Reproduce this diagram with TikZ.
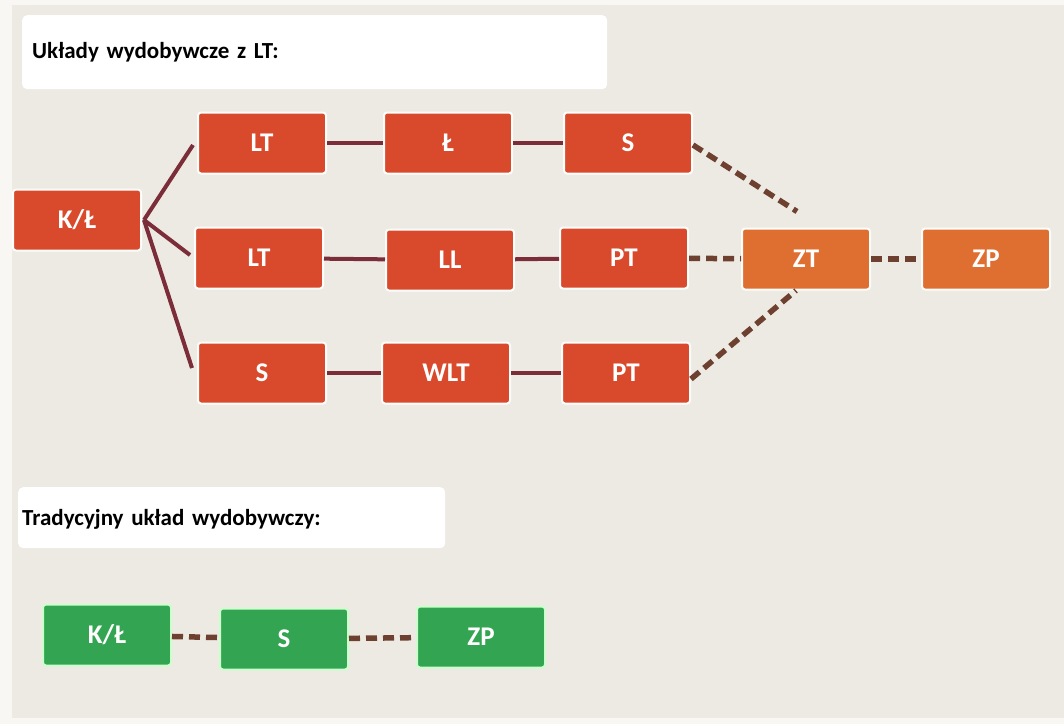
\documentclass[tikz,border=0pt]{standalone}
\usepackage{fontspec}
\setmainfont{Carlito}
\usepackage{xcolor}
\usetikzlibrary{positioning}

\definecolor{bgbeige}{HTML}{EDEAE3}
\definecolor{boxred}{HTML}{D84A2B}
\definecolor{boxorange}{HTML}{DF6F31}
\definecolor{boxgreen}{HTML}{33A552}
\definecolor{linered}{HTML}{7B2D3A}
\definecolor{linebrown}{HTML}{6E4030}

\begin{document}
\begin{tikzpicture}[x=1pt, y=-1pt,
        box/.style={rectangle, rounded corners=3pt, draw=white!90!bgbeige, line width=2pt, minimum width=128pt, minimum height=61pt, text=white, font=\fontsize{27}{30}\selectfont\bfseries},
        redbox/.style={box, fill=boxred},
        orangebox/.style={box, fill=boxorange},
        greenbox/.style={box, fill=boxgreen, draw=green!20!white},
        titlebox/.style={rectangle, rounded corners=5pt, fill=white, anchor=north west, align=left, text width=#1, font=\fontsize{23}{27}\selectfont\bfseries},
        link/.style={draw=linered, line width=4pt},
        dlink/.style={draw=linebrown, line width=5.5pt, dash pattern=on 11pt off 6pt}]
            \useasboundingbox (0, 0) rectangle (1064, 724);
            \fill[white!60!bgbeige] (0, 0) rectangle (1064, 724);
            \fill[bgbeige] (12, 5) rectangle (1064, 718);

            \node[titlebox=565pt, inner xsep=10pt, minimum height=74pt] (t1) at (22, 15) {Układy wydobywcze z LT:};
            \node[titlebox=419pt, inner xsep=4pt, inner ysep=0pt, minimum height=61pt, text depth=-9pt] (t2) at (18, 487) {Tradycyjny układ wydobywczy:};

            \node[redbox] (kl) at (77, 220) {K/Ł};
            \node[redbox] (lt1) at (262, 143) {LT};
            \node[redbox] (l1) at (448, 143) {Ł};
            \node[redbox] (s1) at (628, 143) {S};
            \node[redbox] (lt2) at (259, 258) {LT};
            \node[redbox] (ll2) at (450, 260) {LL};
            \node[redbox] (pt2) at (624, 258) {PT};
            \node[redbox] (s3) at (262, 373) {S};
            \node[redbox] (wlt3) at (446, 373) {WLT};
            \node[redbox] (pt3) at (626, 373) {PT};
            \node[orangebox] (zt) at (806, 259) {ZT};
            \node[orangebox] (zp) at (986, 259) {ZP};

            \node[greenbox] (gkl) at (107, 635) {K/Ł};
            \node[greenbox] (gs) at (284, 639) {S};
            \node[greenbox] (gzp) at (481, 637) {ZP};

            \draw[link] ([xshift=2pt]kl.east) -- ([xshift=-4pt, yshift=-2pt]lt1.west);
            \draw[link] ([xshift=2pt]kl.east) -- ([xshift=-4pt, yshift=3pt]lt2.west);
            \draw[link] ([xshift=2pt]kl.east) -- ([xshift=-5pt, yshift=5pt]s3.west);
            \draw[link] (lt1) -- (l1);
            \draw[link] (l1) -- (s1);
            \draw[link] (lt2) -- (ll2);
            \draw[link] (ll2) -- (pt2);
            \draw[link] (s3) -- (wlt3);
            \draw[link] (wlt3) -- (pt3);

            \draw[dlink] ([yshift=-2pt]s1.east) -- ([xshift=-9pt, yshift=16pt]zt.north);
            \draw[dlink] (pt2) -- (zt);
            \draw[dlink] ([yshift=-6pt]pt3.east) -- ([xshift=-10pt]zt.south);
            \draw[dlink] (zt) -- (zp);

            \draw[dlink] (gkl) -- (gs);
            \draw[dlink] (gs) -- (gzp);
        \end{tikzpicture}
\end{document}
